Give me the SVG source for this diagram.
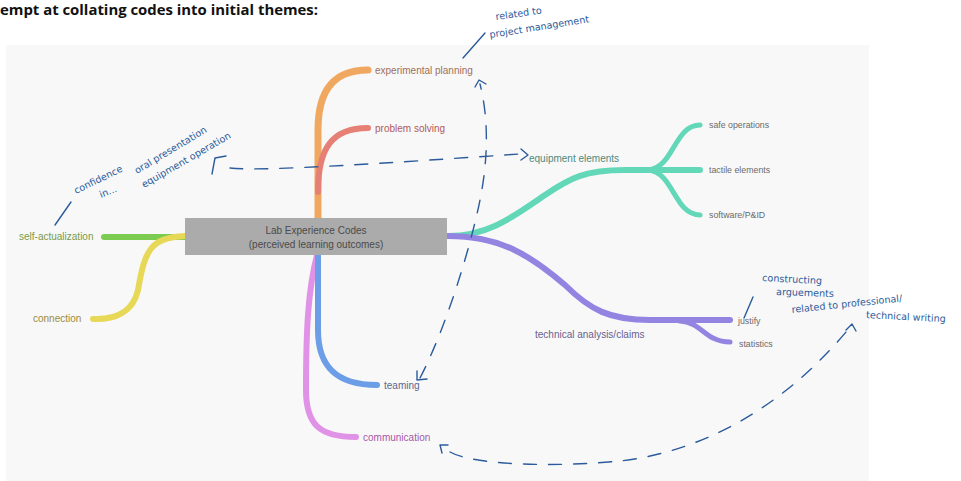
<svg xmlns="http://www.w3.org/2000/svg" width="961" height="481" viewBox="0 0 961 481">
<style>
.br{fill:none;stroke-linecap:round;stroke-linejoin:round}
.lbl{font-family:"Liberation Sans",Arial,sans-serif;font-size:10px}
.sub{font-family:"Liberation Sans",Arial,sans-serif;font-size:8.8px;fill:#6a6a6a}
.hand{font-family:"DejaVu Sans","Liberation Sans",sans-serif;font-size:9.6px;fill:#2b5b9b}
.ink{fill:none;stroke:#2b5b9b;stroke-width:1.4;stroke-linecap:round;stroke-linejoin:round}
.dash{stroke-dasharray:13 12}
</style>
<rect x="0" y="0" width="961" height="481" fill="#ffffff"/>
<rect x="6" y="45" width="863" height="436" fill="#f8f8f8"/>
<text x="0" y="15" font-family="'Open Sans','Liberation Sans',sans-serif" font-size="14" font-weight="bold" fill="#111" textLength="318" lengthAdjust="spacingAndGlyphs">empt at collating codes into initial themes:</text>

<g id="connectors">
<path class="br" d="M318,218 L318,130 C318,95 330,70 368,70" stroke="#f0a860" stroke-width="7"/>
<path class="br" d="M318,192 C318,148 332,128 368,128" stroke="#e67f76" stroke-width="6"/>
<path class="br" d="M317,255 C308,290 306,330 306,390 C306,425 320,437 356,437" stroke="#e092e6" stroke-width="6"/>
<path class="br" d="M318,255 L318,330 C318,365 335,385 377,385" stroke="#6c9ee8" stroke-width="6"/>
<path class="br" d="M185,237 L104,237" stroke="#7ccc52" stroke-width="6"/>
<path class="br" d="M185,236 C150,238 145,250 138,290 C133,312 115,320 93,319" stroke="#e8d858" stroke-width="6"/>
<path class="br" d="M448,236 C490,236 515,215 545,195 C570,178 585,170 625,170 L700,170" stroke="#62d8b8" stroke-width="6"/>
<path class="br" d="M648,170 C674,168 674,125 700,125" stroke="#62d8b8" stroke-width="5"/>
<path class="br" d="M648,170 C674,172 674,215 700,215" stroke="#62d8b8" stroke-width="5"/>
<path class="br" d="M448,236 C500,236 530,255 565,285 C590,310 610,320 650,320 L730,320" stroke="#9484e2" stroke-width="6"/>
<path class="br" d="M680,321 C702,322 705,342 730,342" stroke="#9484e2" stroke-width="5"/>
</g>

<g id="center">
<rect x="185" y="218" width="262" height="37" fill="#ababab"/>
<text x="316" y="234" class="lbl" font-size="11.5" fill="#4a4a4a" text-anchor="middle">Lab Experience Codes</text>
<text x="316" y="248" class="lbl" font-size="11.5" fill="#4a4a4a" text-anchor="middle">(perceived learning outcomes)</text>
</g>
<g id="n-experimental-planning"><text x="375" y="74" class="lbl" fill="#a0705a">experimental planning</text></g>
<g id="n-problem-solving"><text x="375" y="132" class="lbl" fill="#b05a5a">problem solving</text></g>
<g id="n-teaming"><text x="384" y="389" class="lbl" fill="#5a6890">teaming</text></g>
<g id="n-communication"><text x="363" y="441" class="lbl" fill="#a558a8">communication</text></g>
<g id="n-self-actualization"><text x="19" y="240" class="lbl" fill="#7a9a48">self-actualization</text></g>
<g id="n-connection"><text x="33" y="322" class="lbl" fill="#9a8a40">connection</text></g>
<g id="n-equipment-elements"><text x="529" y="162" class="lbl" fill="#4f8a7c">equipment elements</text></g>
<g id="n-safe-operations"><text x="709" y="128" class="sub">safe operations</text></g>
<g id="n-tactile-elements"><text x="709" y="173" class="sub">tactile elements</text></g>
<g id="n-software"><text x="709" y="218" class="sub">software/P&amp;ID</text></g>
<g id="n-technical-analysis"><text x="535" y="338" class="lbl" fill="#6a6090">technical analysis/claims</text></g>
<g id="n-justify"><text x="738" y="324" class="sub">justify</text></g>
<g id="n-statistics"><text x="739" y="347" class="sub">statistics</text></g>

<g id="annotations">
<text class="hand" transform="translate(496,20) rotate(-8)">related to</text>
<text class="hand" transform="translate(490,38) rotate(-9)">project management</text>
<path class="ink" d="M485,33 L463,58"/>

<text class="hand" transform="translate(76,194) rotate(-26)">confidence</text>
<text class="hand" transform="translate(101,198) rotate(-22)">in...</text>
<text class="hand" transform="translate(137,174) rotate(-31)">oral presentation</text>
<text class="hand" transform="translate(144,188) rotate(-30)">equipment operation</text>
<path class="ink" d="M212,174 L215,158 L226,156"/>
<path class="ink" d="M55,225 L71,202"/>
<path class="ink dash" d="M230,168 C262,172 400,162 520,154"/>
<path class="ink" d="M521,149 L528,155 L521,160"/>

<path class="ink dash" d="M420,378 C445,330 470,250 480,200 C488,160 489,120 480,84"/>
<path class="ink" d="M417,371 L417,380 L427,379"/>
<path class="ink" d="M475,87 L479,80 L486,84"/>

<text class="hand" transform="translate(762,281) rotate(3)">constructing</text>
<text class="hand" transform="translate(776,295) rotate(2)">arguements</text>
<path class="ink" d="M753,297 L744,318"/>
<text class="hand" transform="translate(792,313) rotate(-6)">related to professional/</text>
<text class="hand" transform="translate(866,318) rotate(3)">technical writing</text>

<path class="ink dash" d="M450,452 C475,466 560,467 620,461 C700,452 780,410 846,332"/>
<path class="ink" d="M442,453 L440,445 L448,445"/>
<path class="ink" d="M846,330 L852,324 L856,331"/>
</g>
</svg>
